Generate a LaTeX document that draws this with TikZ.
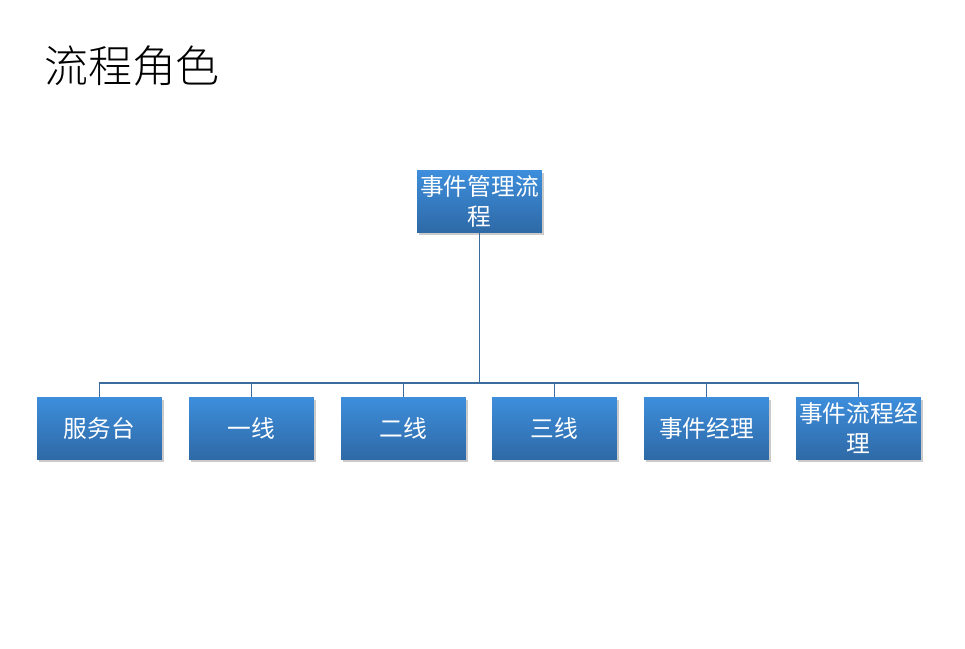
\documentclass[tikz,border=0pt]{standalone}
\usepackage{fontspec}
\setmainfont{Liberation Serif}
\newfontfamily\cjk{Noto Sans CJK SC}
\newfontfamily\cjklight{Noto Sans CJK SC Light}
\usetikzlibrary{shadows}
\definecolor{boxTop}{HTML}{3D8EDC}
\definecolor{boxBottom}{HTML}{2E69A6}
\definecolor{linkBlue}{HTML}{3A6C9E}
\begin{document}
\begin{tikzpicture}[x=0.02cm, y=-0.02cm,
    roleStyle/.style={rectangle, minimum width=2.5cm, minimum height=1.26cm, top color=boxTop, bottom color=boxBottom, draw=none, text=white, font=\cjk\fontsize{13.5}{17}\selectfont, align=center, inner sep=0pt, drop shadow={shadow xshift=0.04cm, shadow yshift=-0.05cm, opacity=0.35, fill=black!60}},
    linkStyle/.style={draw=linkBlue, line width=0.6pt}]
    \useasboundingbox (0,0) rectangle (965,649);

    \node[font=\cjklight\fontsize{25}{28}\selectfont, anchor=west] (title) at (38, 66) {流程角色};

    \node[roleStyle] (root) at (479.5, 201.5) {事件管理流\\程};

    \node[roleStyle] (role_0) at ( 99.5, 428.5) {服务台};
    \node[roleStyle] (role_1) at (251.5, 428.5) {一线};
    \node[roleStyle] (role_2) at (403.5, 428.5) {二线};
    \node[roleStyle] (role_3) at (554.5, 428.5) {三线};
    \node[roleStyle] (role_4) at (706.5, 428.5) {事件经理};
    \node[roleStyle] (role_5) at (858.5, 428.5) {事件流程经\\理};

    \coordinate (bus) at (479.5, 383);

    \draw[linkStyle] (root.south) -- (bus);
    \draw[linkStyle] (bus) -| (role_0.north);
    \draw[linkStyle] (bus) -| (role_1.north);
    \draw[linkStyle] (bus) -| (role_2.north);
    \draw[linkStyle] (bus) -| (role_3.north);
    \draw[linkStyle] (bus) -| (role_4.north);
    \draw[linkStyle] (bus) -| (role_5.north);
\end{tikzpicture}
\end{document}
